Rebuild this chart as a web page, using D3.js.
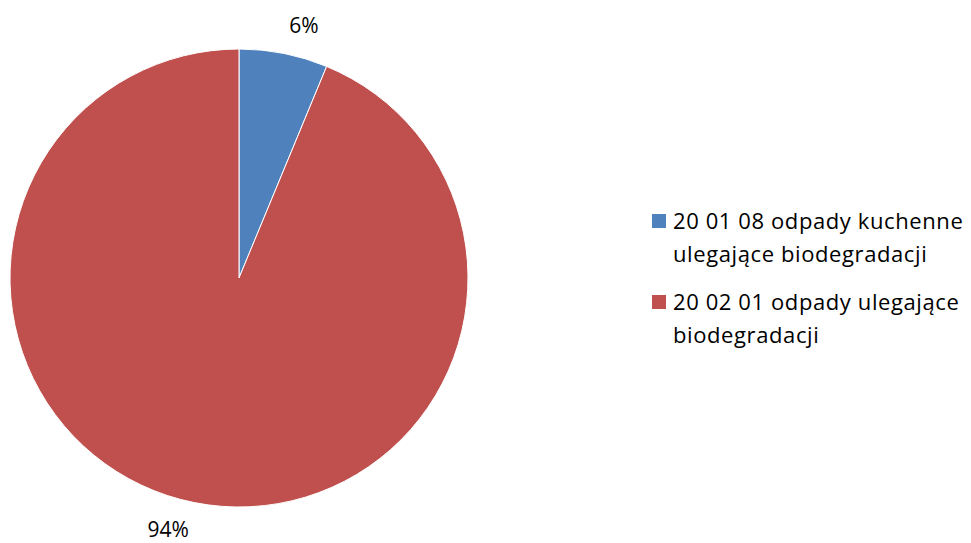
<!DOCTYPE html>
<html>
<head>
<meta charset="utf-8">
<script src="https://cdn.jsdelivr.net/npm/d3@7"></script>
<style>
  body { margin: 0; background: #fff; }
  text { font-family: "Open Sans", Lato, sans-serif; fill: #000; }
</style>
</head>
<body>
<svg id="chart" width="971" height="543"></svg>
<script>
// Chart data
var categories = ["20 01 08 odpady kuchenne ulegające biodegradacji",
                  "20 02 01 odpady ulegające biodegradacji"];
var legend_lines = [["20 01 08 odpady kuchenne", "ulegające biodegradacji"],
                    ["20 02 01 odpady ulegające", "biodegradacji"]];
var values = [6.25, 93.75];
var labels = ["6%", "94%"];
var colors = ["#4F81BD", "#C0504D"];

var svg = d3.select("#chart");

// pie geometry
var cx = 239, cy = 278, radius = 229;

var pie = d3.pie().sort(null).value(function(d) { return d; });
var arcs = pie(values);

var arc = d3.arc().innerRadius(0).outerRadius(radius);
var label_arc = d3.arc().innerRadius(257).outerRadius(257);

var g = svg.append("g").attr("transform", "translate(" + cx + "," + cy + ")");

g.selectAll("path")
  .data(arcs)
  .enter()
  .append("path")
  .attr("d", arc)
  .attr("fill", function(d, i) { return colors[i]; })
  .attr("stroke", "#fff")
  .attr("stroke-width", 1);

// data labels outside the slices
g.selectAll("text.lbl")
  .data(arcs)
  .enter()
  .append("text")
  .attr("class", "lbl")
  .attr("x", function(d) { return label_arc.centroid(d)[0]; })
  .attr("y", function(d) { return label_arc.centroid(d)[1]; })
  .attr("dy", "0.35em")
  .attr("text-anchor", function(d) {
    var mid = (d.startAngle + d.endAngle) / 2;
    return Math.sin(mid) > 0 ? "start" : "end";
  })
  .style("font-size", "21px")
  .text(function(d, i) { return labels[i]; });

// legend
var legend = svg.append("g").attr("transform", "translate(652,0)");
var entry_y = [221, 302];
var line_h = 33;

categories.forEach(function(c, i) {
  legend.append("rect")
    .attr("x", 0)
    .attr("y", entry_y[i] - 7)
    .attr("width", 14)
    .attr("height", 14)
    .attr("fill", colors[i]);
  legend_lines[i].forEach(function(line, j) {
    legend.append("text")
      .attr("x", 21)
      .attr("y", entry_y[i] + j * line_h)
      .attr("dy", "0.35em")
      .style("font-size", "22px")
      .style("letter-spacing", "0.6px")
      .text(line);
  });
});
</script>
</body>
</html>
